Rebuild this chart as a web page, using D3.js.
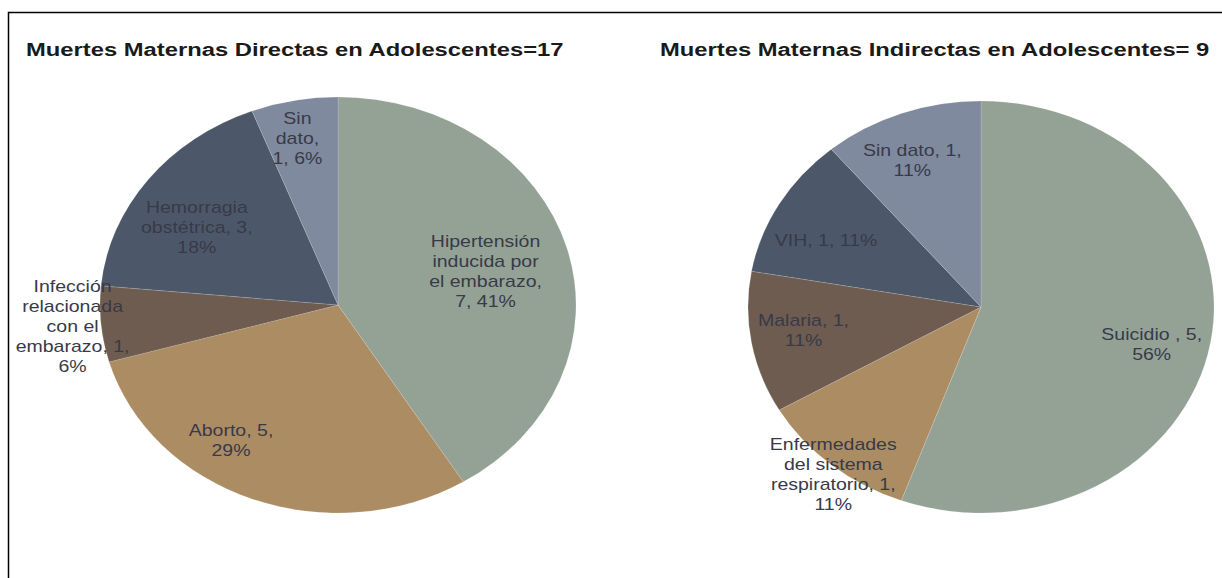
<!DOCTYPE html>
<html>
<head>
<meta charset="utf-8">
<script src="https://cdn.jsdelivr.net/npm/d3@7"></script>
<style>
  body { margin: 0; background: #fff; }
  svg text { font-family: "Liberation Sans", Arial, sans-serif; }
</style>
</head>
<body>
<svg id="chart" width="1222" height="578"></svg>
<script>
// data
const direct_titles = 'Muertes Maternas Directas en Adolescentes=17';
const direct_labels = [
    ['Hipertensión', 'inducida por', 'el embarazo,', '7, 41%'],
    ['Aborto, 5,', '29%'],
    ['Infección', 'relacionada', 'con el', 'embarazo, 1,', '6%'],
    ['Hemorragia', 'obstétrica, 3,', '18%'],
    ['Sin', 'dato,', '1, 6%']
];
const direct_values = [7, 5, 1, 3, 1];

const indirect_title = 'Muertes Maternas Indirectas en Adolescentes= 9';
const indirect_labels = [
    ['Suicidio , 5,', '56%'],
    ['Enfermedades', 'del sistema', 'respiratorio, 1,', '11%'],
    ['Malaria, 1,', '11%'],
    ['VIH, 1, 11%'],
    ['Sin dato, 1,', '11%']
];
const indirect_values = [5, 1, 1, 1, 1];

const slice_colors = ['#94a296', '#ac8c63', '#6e5c51', '#4c5869', '#7f8a9f'];

// the source picture is stretched sideways, so text gets a wider scale too
const text_stretch = 1.22;

const svg = d3.select('#chart');

// frame lines
svg.append('path')
    .attr('d', 'M8.5,578V12.5H1222')
    .attr('stroke', '#000')
    .attr('stroke-width', 1.5)
    .attr('fill', 'none');

const plot_pie = function(values, labels, title, opts){
    const grp = svg.append('g');

    grp.append('text')
        .attr('transform', `translate(${opts.title_x},56) scale(1.285,1)`)
        .style('font-size', '18.5px')
        .style('font-weight', 'bold')
        .attr('fill', '#1a1a1a')
        .text(title);

    const pie = d3.pie().sort(null).value(d => d);
    const arcs = pie(values);
    const arc = d3.arc().innerRadius(0).outerRadius(opts.rx);

    // ellipse: squash a circle vertically
    const pie_grp = grp.append('g')
        .attr('transform', `translate(${opts.cx},${opts.cy}) scale(1,${opts.ry / opts.rx})`);

    pie_grp.selectAll('path')
        .data(arcs)
        .enter()
    .append('path')
        .attr('d', arc)
        .attr('fill', (d, i) => slice_colors[i])
        .attr('stroke', 'rgba(255,255,255,0.25)')
        .attr('stroke-width', 0.6);

    // labels near each slice (mid angle + small nudge)
    const line_h = 20;
    arcs.forEach(function(d, i){
        const ang = (d.startAngle + d.endAngle) / 2 + opts.label_nudge[i] * Math.PI / 180;
        const r = opts.rx * opts.label_r[i];
        const x = opts.cx + r * Math.sin(ang);
        const y = opts.cy - r * Math.cos(ang) * opts.ry / opts.rx;
        const lines = labels[i];
        const y0 = y - (lines.length - 1) / 2 * line_h + 5.5;
        const t = grp.append('text')
            .attr('transform', `translate(${x},${y0}) scale(${text_stretch},1)`)
            .attr('text-anchor', 'middle')
            .attr('fill', '#383a48')
            .style('font-size', '16px');
        lines.forEach(function(s, k){
            t.append('tspan')
                .attr('x', 0)
                .attr('y', k * line_h)
                .text(s);
        });
    });
};

plot_pie(direct_values, direct_labels, direct_titles, {
    cx: 338, cy: 305, rx: 238, ry: 208, title_x: 26,
    label_r: [0.64, 0.79, 1.12, 0.70, 0.82],
    label_nudge: [1.5, 13.5, 0, -5, -1.4]
});

plot_pie(indirect_values, indirect_labels, indirect_title, {
    cx: 981, cy: 307, rx: 233, ry: 206, title_x: 660,
    label_r: [0.755, 1.03, 0.77, 0.74, 0.77],
    label_nudge: [4, -2, 1.6, -4, -2.5]
});
</script>
</body>
</html>
